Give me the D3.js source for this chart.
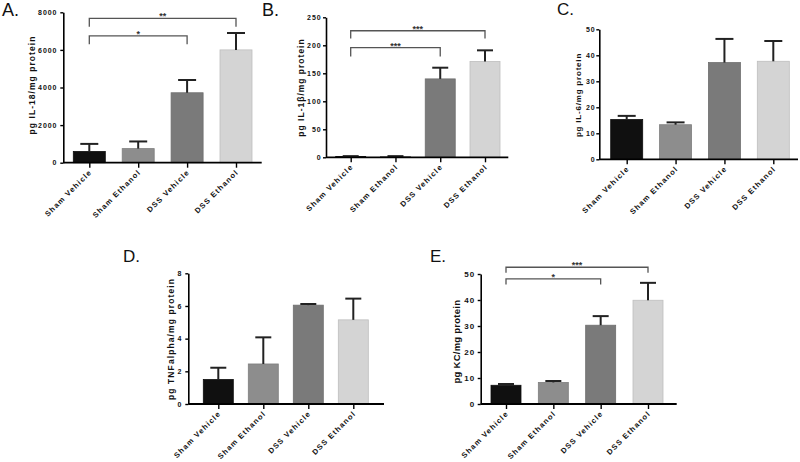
<!DOCTYPE html>
<html><head><meta charset="utf-8">
<script src="https://cdn.jsdelivr.net/npm/d3@7/dist/d3.min.js"></script>
<style>body{margin:0;background:#fff}svg{display:block}</style>
</head><body>
<svg id="chart" width="800" height="462"></svg>
<script>
// ---- data ----
const categories = ["Sham Vehicle", "Sham Ethanol", "DSS Vehicle", "DSS Ethanol"];
const barColors = ["#101010", "#8d8d8d", "#7a7a7a", "#d4d4d4"];

const il18Mean = [600, 750, 3720, 6000];
const il18Err  = [400, 380, 680, 900];
const il18Ticks = [0, 2000, 4000, 6000, 8000];
const il18Sig = [[0, 3, 7680, 7230, "**"], [0, 2, 6750, 6300, "*"]];

const il1bMean = [1.5, 1.5, 140, 171];
const il1bErr  = [0.6, 0.6, 20, 20];
const il1bTicks = [0, 50, 100, 150, 200, 250];
const il1bSig = [[0, 3, 226, 212, "***"], [0, 2, 196, 180, "***"]];

const il6Mean = [15.3, 13.3, 37.2, 37.7];
const il6Err  = [1.4, 0.9, 9.1, 7.8];
const il6Ticks = [0, 10, 20, 30, 40, 50];
const il6Sig = [];

const tnfMean = [1.5, 2.45, 6.05, 5.15];
const tnfErr  = [0.72, 1.63, 0.07, 1.3];
const tnfTicks = [0, 2, 4, 6, 8];
const tnfSig = [];

const kcMean = [7.2, 8.3, 30.3, 39.9];
const kcErr  = [0.5, 0.55, 3.5, 6.7];
const kcTicks = [0, 10, 20, 30, 40, 50];
const kcSig = [[0, 3, 52.6, 50.5, "***"], [0, 2, 48.1, 46.0, "*"]];

// ---- layout ----
const panels = [
  {letter: "A.", title: "pg IL-18/mg protein", mean: il18Mean, err: il18Err, ticks: il18Ticks, sig: il18Sig,
   L: {ax: 63.3, xEnd: 261.7, y0: 162.7, yTop: 12.3, c0: 89.3, c3: 236, bw: 32, cap: 18, pad: 3,
       lx: 2, ly: 16, ls: 18, tx: 33, ty: 85, ts: 8.5, tsp: 1.05, fs: 7}},
  {letter: "B.", title: "pg IL-1\u03b2/mg protein", mean: il1bMean, err: il1bErr, ticks: il1bTicks, sig: il1bSig,
   L: {ax: 326, xEnd: 508.3, y0: 157.3, yTop: 17.3, c0: 350.7, c3: 485, bw: 30, cap: 16, pad: 1.5,
       lx: 262, ly: 16, ls: 18, tx: 301.7, ty: 87.5, ts: 8.5, tsp: 1.0, fs: 7}},
  {letter: "C.", title: "pg IL-6/mg protein", mean: il6Mean, err: il6Err, ticks: il6Ticks, sig: il6Sig,
   L: {ax: 599.3, xEnd: 798, y0: 159.3, yTop: 29.3, c0: 626.7, c3: 773.3, bw: 32, cap: 18, pad: 0.8,
       lx: 557, ly: 15, ls: 17, tx: 579, ty: 95, ts: 8, tsp: 0.8, fs: 7}},
  {letter: "D.", title: "pg TNFalpha/mg protein", mean: tnfMean, err: tnfErr, ticks: tnfTicks, sig: tnfSig,
   L: {ax: 188.3, xEnd: 384, y0: 404, yTop: 273.3, c0: 218.3, c3: 353.3, bw: 30, cap: 16, pad: 3,
       lx: 123, ly: 262, ls: 17, tx: 171.7, ty: 339, ts: 8.5, tsp: 1.1, fs: 7}},
  {letter: "E.", title: "pg KC/mg protein", mean: kcMean, err: kcErr, ticks: kcTicks, sig: kcSig,
   L: {ax: 480.7, xEnd: 676.7, y0: 404, yTop: 274, c0: 506, c3: 648, bw: 30, cap: 16, pad: 2.7,
       lx: 430, ly: 262, ls: 17, tx: 457.3, ty: 341.6, ts: 9.5, tsp: 0.25, fs: 8}}
];

const svg = d3.select("#chart");
const FONT = "'Liberation Sans', Arial, sans-serif";

panels.forEach(p => {
  const L = p.L;
  const g = svg.append("g");
  const y = d3.scaleLinear().domain([0, p.ticks[p.ticks.length - 1]]).range([L.y0, L.yTop]);
  const x = d3.scalePoint().domain(categories).range([L.c0, L.c3]);

  // bars
  g.selectAll("rect.bar").data(categories).join("rect")
    .attr("x", d => x(d) - L.bw / 2)
    .attr("y", (d, i) => y(p.mean[i]))
    .attr("width", L.bw)
    .attr("height", (d, i) => L.y0 - y(p.mean[i]))
    .attr("fill", (d, i) => barColors[i])
    .attr("stroke", (d, i) => d3.color(barColors[i]).darker(0.3))
    .attr("stroke-width", 0.8);

  // error bars (upper only)
  g.selectAll("line.err").data(categories).join("line")
    .attr("x1", d => x(d)).attr("x2", d => x(d))
    .attr("y1", (d, i) => y(p.mean[i]))
    .attr("y2", (d, i) => y(p.mean[i] + p.err[i]))
    .attr("stroke", "#222").attr("stroke-width", 2);
  g.selectAll("line.cap").data(categories).join("line")
    .attr("x1", d => x(d) - L.cap / 2).attr("x2", d => x(d) + L.cap / 2)
    .attr("y1", (d, i) => y(p.mean[i] + p.err[i]))
    .attr("y2", (d, i) => y(p.mean[i] + p.err[i]))
    .attr("stroke", "#222").attr("stroke-width", 2);

  // y axis
  const ya = g.append("g").attr("transform", `translate(${L.ax},0)`)
    .call(d3.axisLeft(y).tickValues(p.ticks).tickFormat(d3.format("d"))
      .tickSize(3).tickSizeOuter(0).tickPadding(L.pad));
  ya.select(".domain").attr("stroke", "#000").attr("stroke-width", 1.6);
  ya.selectAll(".tick line").attr("stroke", "#000").attr("stroke-width", 1.4);
  ya.selectAll(".tick text").attr("font-family", FONT).attr("font-weight", "bold")
    .attr("font-size", L.fs).attr("letter-spacing", "0.9px").attr("fill", "#111");

  // x axis
  g.append("line").attr("x1", L.ax).attr("x2", L.xEnd).attr("y1", L.y0).attr("y2", L.y0)
    .attr("stroke", "#000").attr("stroke-width", 1.8);
  const xa = g.append("g").attr("transform", `translate(0,${L.y0})`)
    .call(d3.axisBottom(x).tickSize(5).tickSizeOuter(0));
  xa.select(".domain").remove();
  xa.selectAll(".tick line").attr("stroke", "#000").attr("stroke-width", 1.4);
  xa.selectAll(".tick text").remove();

  g.selectAll("text.cat").data(categories).join("text")
    .attr("transform", d => `translate(${x(d) + 3},${L.y0 + 10}) rotate(-45)`)
    .attr("text-anchor", "end")
    .attr("font-family", FONT).attr("font-weight", "bold").attr("font-size", 7.5)
    .attr("letter-spacing", "1.2px").attr("fill", "#111")
    .text(d => d);

  // y title
  g.append("text")
    .attr("transform", `translate(${L.tx},${L.ty}) rotate(-90)`)
    .attr("text-anchor", "middle").attr("dominant-baseline", "middle")
    .attr("font-family", FONT).attr("font-weight", "bold").attr("font-size", L.ts)
    .attr("letter-spacing", L.tsp + "px").attr("fill", "#111")
    .text(p.title);

  // panel letter
  g.append("text").attr("x", L.lx).attr("y", L.ly)
    .attr("font-family", FONT).attr("font-size", L.ls).attr("fill", "#111")
    .text(p.letter);

  // significance brackets
  p.sig.forEach(s => {
    const [a, b, yv, dv, lab] = s;
    const xa1 = x(categories[a]), xb1 = x(categories[b]);
    g.append("path")
      .attr("d", `M${xa1},${y(dv)}V${y(yv)}H${xb1}V${y(dv)}`)
      .attr("fill", "none").attr("stroke", "#555").attr("stroke-width", 1.3);
    g.append("text")
      .attr("x", (xa1 + xb1) / 2).attr("y", y(yv) + 1)
      .attr("text-anchor", "middle")
      .attr("font-family", FONT).attr("font-weight", "bold").attr("font-size", 9)
      .attr("fill", "#333").text(lab);
  });
});
</script>
</body></html>
